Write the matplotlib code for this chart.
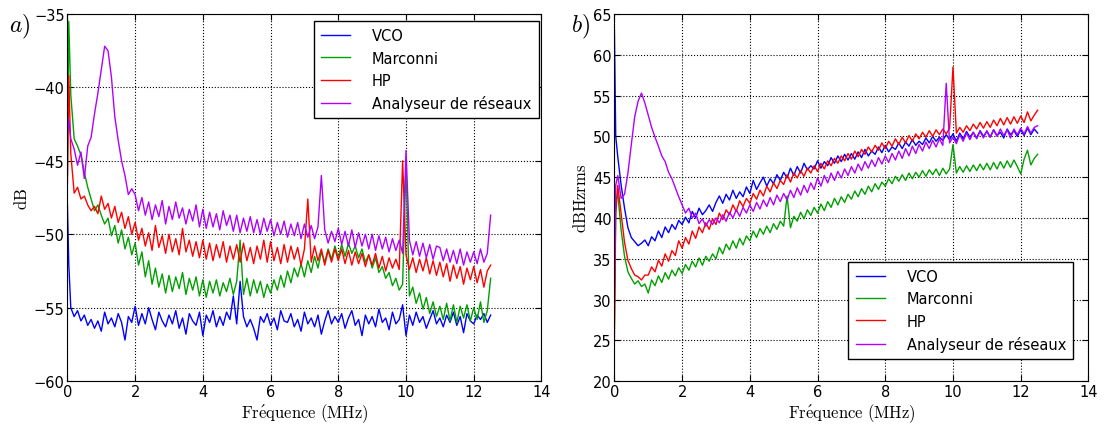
import numpy as np
import matplotlib
matplotlib.use("Agg")
import matplotlib.pyplot as plt

plt.rcParams['mathtext.fontset'] = 'cm'
plt.rcParams['font.family'] = ['DejaVu Sans']

# frequency grid (MHz): 0, 0.04, then 0.1 .. 12.5 by 0.1
freq = np.concatenate([[0.0, 0.04], np.round(np.arange(0.1, 12.51, 0.1), 1)])

labels = ['VCO', 'Marconni', 'HP', 'Analyseur de réseaux']
colors = ['#0000ff', '#00a000', '#ff0000', '#b000ff']

# ---- a) spectre (dB)
a_vco = [-48.0, -52.0, -55.0, -55.6, -55.2, -55.9, -55.5, -56.2, -55.8, -56.4, -55.9,
         -56.6, -55.3, -56.1, -55.7, -56.3, -55.4, -56.0, -57.2, -55.6, -56.0,
         -54.9, -56.2, -55.4, -56.1, -55.0, -55.8, -56.5, -55.3, -55.9, -56.3,
         -55.5, -56.1, -55.2, -56.4, -55.7, -56.8, -55.4, -55.9, -56.2, -55.3,
         -56.9, -55.5, -56.0, -55.2, -56.3, -55.6, -56.2, -55.3, -55.8, -54.2,
         -56.1, -53.2, -55.6, -56.3, -55.8, -56.4, -57.2, -55.6, -56.0, -55.4,
         -56.2, -55.7, -56.5, -55.2, -55.9, -56.0, -55.4, -56.3, -55.8, -56.6,
         -55.3, -56.1, -55.7, -56.3, -55.5, -56.8, -55.9, -55.2, -56.1, -55.6,
         -56.0, -55.4, -56.4, -55.7, -55.2, -56.2, -55.8, -56.9, -55.5, -56.1,
         -55.6, -56.3, -55.1, -56.0, -55.7, -56.5, -55.3, -56.1, -55.8, -54.8,
         -56.9, -55.5, -56.2, -55.3, -56.0, -55.6, -56.4, -55.8, -55.2, -56.1,
         -55.7, -56.3, -55.5, -56.0, -55.3, -56.2, -55.6, -56.7, -55.4, -55.9,
         -56.1, -55.5, -55.8, -55.4, -56.0, -55.5]
a_marconni = [-46.0, -35.5, -40.5, -43.5, -44.0, -44.6, -45.8, -46.8, -47.6, -48.4, -48.0,
              -48.7, -49.3, -48.9, -50.1, -49.4, -50.6, -49.7, -51.0, -50.2, -51.4,
              -50.6, -52.1, -51.2, -52.9, -51.8, -53.4, -52.3, -53.6, -52.7, -54.0,
              -52.8, -53.9, -52.9, -53.7, -52.6, -54.1, -53.0, -53.8, -52.9, -54.2,
              -53.1, -54.3, -53.2, -54.0, -53.1, -54.2, -53.3, -53.9, -53.0, -54.1,
              -53.2, -50.4, -54.1, -53.0, -54.2, -53.1, -54.0, -53.2, -54.3, -53.4,
              -54.0, -53.1, -53.8, -52.8, -53.6, -52.5, -53.3, -52.3, -52.9, -52.0,
              -52.9, -51.8, -52.6, -51.5, -52.3, -51.2, -51.9, -51.0, -51.7, -50.8,
              -51.6, -50.7, -51.5, -50.6, -51.3, -50.8, -51.6, -51.0, -51.9, -51.4,
              -52.3, -51.6, -52.6, -52.2, -53.0, -52.6, -53.5, -53.0, -53.8, -53.4,
              -45.2, -54.2, -53.6, -54.7, -54.0, -55.1, -54.3, -55.4, -54.6, -55.6,
              -54.9, -55.8, -54.7, -55.9, -54.8, -56.0, -54.9, -55.7, -54.8, -55.9,
              -55.0, -55.8, -54.6, -56.0, -55.2, -53.0]
a_hp = [-46.5, -39.2, -44.5, -47.2, -46.8, -47.6, -47.4, -48.0, -48.4, -48.1, -48.6,
        -47.4, -48.3, -47.9, -48.9, -48.1, -49.2, -48.5, -49.6, -48.8, -50.0,
        -49.2, -50.4, -49.6, -50.8, -49.9, -51.1, -49.4, -50.9, -50.1, -51.3,
        -50.0, -51.2, -50.3, -51.4, -49.6, -51.2, -50.4, -51.5, -50.5, -51.6,
        -50.4, -51.7, -50.6, -51.8, -50.7, -51.6, -50.5, -51.9, -50.8, -51.7,
        -50.7, -51.9, -50.6, -51.8, -50.9, -52.0, -50.8, -51.7, -50.4, -51.9,
        -50.5, -51.8, -50.9, -52.0, -50.7, -51.9, -50.8, -51.7, -50.9, -52.1,
        -51.0, -47.6, -51.9, -50.8, -51.8, -51.0, -52.1, -51.1, -51.9, -51.0,
        -51.8, -51.0, -52.0, -51.1, -52.1, -51.2, -52.0, -51.3, -52.2, -51.4,
        -52.1, -51.3, -52.3, -51.5, -52.5, -51.6, -52.3, -51.7, -52.4, -45.0,
        -51.4, -52.4, -51.6, -52.6, -51.7, -52.5, -51.6, -52.7, -51.8, -52.8,
        -51.9, -52.9, -52.0, -53.2, -52.1, -53.0, -52.2, -53.4, -52.3, -53.1,
        -52.2, -53.3, -52.4, -53.6, -52.5, -52.1]
a_analyseur = [-43.0, -42.2, -43.5, -44.2, -45.3, -44.4, -46.2, -44.0, -43.4, -41.8, -40.4,
               -38.8, -37.2, -37.5, -39.3, -42.0, -43.6, -45.0, -46.0, -47.3, -46.9,
               -47.3, -48.4, -47.5, -48.7, -47.8, -49.0, -48.0, -48.8, -47.7, -49.3,
               -48.1, -49.0, -47.8, -48.9, -48.2, -49.3, -48.3, -49.1, -48.0, -49.5,
               -48.3, -49.6, -48.5, -49.5, -48.6, -49.7, -48.4, -49.4, -48.7, -49.8,
               -48.7, -49.9, -48.9, -49.8, -48.8, -49.9, -49.0, -50.0, -48.9, -49.8,
               -49.0, -50.1, -49.2, -50.0, -49.1, -50.2, -49.3, -50.1, -49.2, -50.3,
               -49.3, -50.2, -49.4, -50.3, -49.5, -46.0, -49.7, -50.6, -49.8, -50.5,
               -49.6, -50.7, -49.8, -50.8, -49.7, -50.9, -49.9, -50.8, -50.0, -51.0,
               -50.0, -51.1, -50.1, -51.0, -50.2, -51.2, -50.3, -51.1, -50.4, -51.3,
               -44.3, -50.4, -51.4, -50.5, -51.5, -50.6, -51.6, -50.7, -51.7, -50.8,
               -50.9, -51.8, -51.0, -51.9, -51.1, -52.0, -51.0, -52.1, -51.2, -51.9,
               -51.2, -52.0, -51.0, -51.9, -51.3, -48.7]

# ---- b) densite (dBHzrms)
b_vco = [63.0, 50.0, 47.5, 44.0, 41.2, 38.8, 37.6, 37.1, 36.6, 36.9, 37.3,
         36.6, 37.7, 37.2, 38.4, 37.6, 38.9, 38.2, 39.2, 38.6, 39.7,
         39.2, 40.1, 39.4, 40.8, 40.0, 41.2, 40.4, 40.9, 41.6, 40.8,
         41.9, 42.7, 41.8, 42.9, 42.2, 43.4, 42.4, 43.2, 42.6, 43.8,
         43.0, 44.6, 43.5, 44.3, 45.0, 43.9, 44.8, 44.2, 45.3, 44.6,
         45.6, 44.9, 46.1, 45.2, 46.3, 45.5, 46.7, 45.9, 46.4, 46.0,
         47.0, 46.1, 46.9, 46.4, 47.4, 46.7, 47.6, 46.9, 47.8, 47.1,
         47.9, 47.2, 48.1, 47.4, 48.4, 47.6, 48.2, 47.8, 48.7, 48.0,
         48.9, 48.1, 48.7, 48.4, 49.2, 48.5, 49.3, 48.8, 49.6, 48.9,
         49.4, 49.0, 49.8, 49.2, 50.0, 49.4, 49.9, 49.5, 50.2, 49.6,
         50.3, 49.4, 50.4, 49.7, 50.6, 49.9, 50.5, 49.8, 50.7, 50.0,
         50.6, 49.9, 50.8, 50.1, 50.5, 49.8, 50.9, 50.2, 50.7, 50.0,
         50.8, 50.1, 51.0, 50.2, 50.9, 50.4]
b_marconni = [27.0, 42.0, 43.0, 38.5, 35.3, 33.4, 32.6, 31.9, 32.3, 31.6, 31.9,
              30.8, 32.4, 31.7, 32.9, 32.1, 33.3, 32.5, 33.6, 32.9, 33.9,
              33.2, 34.3, 33.6, 34.7, 34.0, 35.1, 34.2, 35.3, 34.7, 35.6,
              35.0, 36.4, 35.6, 36.8, 36.1, 37.2, 36.3, 37.5, 36.7, 37.8,
              37.2, 38.4, 37.6, 38.7, 38.0, 39.0, 38.2, 39.3, 38.6, 39.6,
              39.0, 42.7, 38.8, 40.2, 39.6, 40.7, 39.9, 41.0, 40.3, 41.3,
              40.6, 41.7, 40.9, 42.0, 41.3, 42.4, 41.6, 42.6, 41.9, 42.9,
              42.3, 43.3, 42.6, 43.6, 42.9, 43.9, 43.2, 44.2, 43.5, 44.4,
              43.9, 44.8, 44.2, 45.1, 44.5, 45.3, 44.6, 45.5, 44.8, 45.6,
              45.0, 45.8, 45.1, 45.9, 45.3, 46.0, 45.2, 46.1, 45.4, 46.0,
              49.0, 45.5, 46.3, 45.6, 46.4, 45.7, 46.5, 45.8, 46.6, 45.9,
              46.7, 45.9, 46.8, 46.0, 46.9, 46.1, 47.0, 46.2, 47.1, 46.3,
              45.4, 47.2, 48.3, 46.5, 47.3, 47.8]
b_hp = [25.0, 40.5, 44.0, 40.5, 37.0, 34.8, 33.8, 33.0, 32.8, 32.4, 33.0,
        33.0, 34.0, 33.4, 34.8, 34.1, 35.6, 34.7, 36.0, 35.4, 37.2,
        36.3, 37.6, 36.8, 38.4, 37.5, 38.9, 38.2, 39.4, 38.6, 39.9,
        39.2, 40.6, 39.8, 41.0, 40.4, 41.6, 40.8, 42.1, 41.4, 42.4,
        41.8, 43.0, 42.3, 43.4, 42.7, 43.9, 43.2, 44.3, 43.6, 44.6,
        44.1, 45.3, 44.4, 45.5, 44.9, 45.8, 45.1, 46.1, 45.5, 46.4,
        45.7, 46.7, 46.0, 47.0, 46.4, 47.3, 46.7, 47.6, 47.0, 47.9,
        47.2, 48.2, 47.5, 48.4, 47.8, 48.7, 48.1, 48.9, 48.3, 49.2,
        48.5, 49.4, 48.8, 49.7, 49.0, 49.9, 49.2, 50.1, 49.4, 50.3,
        49.7, 50.5, 49.9, 50.7, 50.0, 50.8, 50.2, 50.9, 50.3, 51.0,
        58.5, 50.4, 51.1, 50.5, 51.3, 50.7, 51.5, 50.9, 51.7, 51.0,
        51.8, 51.1, 52.0, 51.3, 52.2, 51.4, 52.3, 51.5, 52.4, 51.6,
        52.5, 51.7, 53.0, 51.9, 52.6, 53.2]
b_analyseur = [30.0, 44.0, 45.2, 42.4, 42.9, 45.5, 49.0, 52.4, 54.3, 55.3, 54.1,
               52.6, 51.1, 49.9, 48.8, 47.6, 46.9, 45.6, 44.8, 43.7, 42.6,
               41.6, 40.6, 41.2, 40.0, 40.6, 39.3, 39.9, 39.0, 39.8, 39.2,
               40.0, 39.4, 40.4, 39.6, 40.7, 40.0, 41.0, 40.2, 41.3, 40.6,
               41.6, 40.8, 41.9, 41.1, 42.2, 41.4, 42.5, 41.6, 42.8, 42.0,
               43.0, 42.2, 43.4, 42.5, 43.7, 42.8, 44.0, 43.1, 44.3, 43.5,
               44.9, 43.9, 45.2, 44.3, 45.5, 44.6, 45.7, 44.9, 46.0, 45.2,
               46.3, 45.5, 46.6, 45.8, 46.9, 46.1, 47.1, 46.3, 47.4, 46.6,
               47.6, 46.8, 47.9, 47.1, 48.2, 47.3, 48.5, 47.6, 48.8, 47.9,
               49.0, 48.2, 49.3, 48.5, 49.5, 48.7, 49.7, 48.9, 56.5, 49.2,
               49.9, 49.1, 50.2, 49.4, 50.4, 49.6, 50.5, 49.7, 50.6, 49.8,
               50.7, 49.9, 50.8, 50.0, 50.9, 50.1, 50.8, 49.8, 50.9, 50.2,
               51.0, 50.3, 51.2, 50.4, 51.1, 51.3]

fig = plt.figure(figsize=(11.05, 4.27), dpi=100)
ax1 = fig.add_axes([0.061, 0.105, 0.429, 0.860])
ax2 = fig.add_axes([0.556, 0.105, 0.429, 0.860])

for ax, series in [(ax1, [a_vco, a_marconni, a_hp, a_analyseur]),
                   (ax2, [b_vco, b_marconni, b_hp, b_analyseur])]:
    for y, c, lab in zip(series, colors, labels):
        ax.plot(freq, y, color=c, lw=1.0, label=lab)
    ax.set_xlim(0, 14)
    ax.set_xticks(range(0, 15, 2))
    ax.grid(True, linestyle=':', color='k', lw=0.8)
    ax.tick_params(direction='in', top=True, right=True, length=4,
                   labelsize=10.5, pad=2)
    ax.set_xlabel(r'$\mathrm{Fr\acute{e}quence\ (MHz)}$', fontsize=12, labelpad=2)

ax1.set_ylim(-60, -35)
ax1.set_yticks(range(-60, -34, 5))
ax1.set_ylabel(r'$\mathrm{dB}$', fontsize=12, labelpad=2)
ax2.set_ylim(20, 65)
ax2.set_yticks(range(20, 66, 5))
ax2.set_ylabel(r'$\mathrm{dBHzrms}$', fontsize=12, labelpad=2)

leg_kw = dict(fontsize=10.5, fancybox=False, edgecolor='k', framealpha=1,
              handlelength=2.0, handletextpad=1.5, borderpad=0.5, borderaxespad=0)
l1 = ax1.legend(loc='upper right', bbox_to_anchor=(0.994, 0.981), **leg_kw)
l2 = ax2.legend(loc='lower right', bbox_to_anchor=(0.968, 0.06), **leg_kw)
for l in (l1, l2):
    l.get_frame().set_linewidth(1.0)

fig.text(0.008, 0.97, r'$a)$', fontsize=17, va='top')
fig.text(0.517, 0.97, r'$b)$', fontsize=17, va='top')

fig.savefig('out.png', dpi=100)
